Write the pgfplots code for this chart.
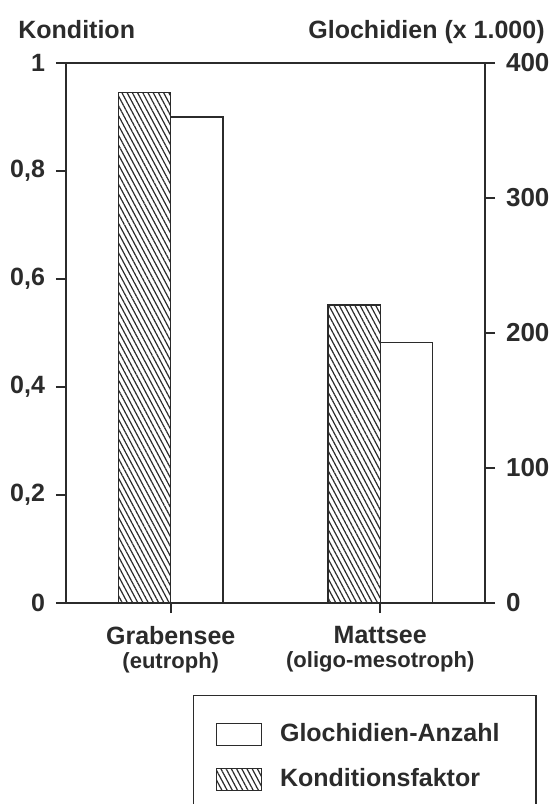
\documentclass[border=0pt]{standalone}
\usepackage{pgfplots}
\pgfplotsset{compat=1.18}
\usepackage{fontspec}
\setmainfont{Liberation Sans}
\usetikzlibrary{patterns.meta}
\definecolor{ink}{HTML}{2B2B2B}
\pgfplotsset{
  boxlegend/.style={legend image code/.code={\draw[##1] (0pt,-5.5pt) rectangle (22.5pt,5.5pt);}},
  hatch/.style={draw=ink, line width=0.7pt, pattern={Lines[angle=-62,distance=2.3pt,line width=0.6pt]}, pattern color=ink},
}
\begin{document}
\begin{tikzpicture}[font=\bfseries\fontsize{12.5}{15}\selectfont, text=ink]
\begin{axis}[
  name=ax, at={(0,0)}, anchor=south west,
  scale only axis, width=209.5pt, height=270pt,
  xmin=-0.5, xmax=1.5, ymin=0, ymax=1,
  xtick={0,1},
  xticklabels={{Grabensee\\[1pt]\fontsize{11}{11}\selectfont(eutroph)}, {Mattsee\\[1pt]\fontsize{11}{11}\selectfont(oligo-mesotroph)}},
  xticklabel style={align=center, font=\bfseries\fontsize{12.5}{11}\selectfont, yshift=-3pt},
  yticklabel style={xshift=-2pt},
  ytick={0,0.2,0.4,0.6,0.8,1},
  xtick pos=bottom, ytick pos=left,
  tick align=outside, major tick length=5pt,
  /pgf/number format/use comma,
  /pgf/number format/assume math mode=true,
  axis line style={ink, line width=0.9pt},
  tick style={ink, line width=0.9pt},
  extra description/.code={
    \node[anchor=base west, inner sep=0pt, xshift=-24pt, yshift=12pt] at (axis description cs:0,1) {Kondition};
    \node[anchor=base east, inner sep=0pt, xshift=30pt, yshift=12pt] at (axis description cs:1,1) {Glochidien (x 1.000)};
  },
]
\addplot[ybar, bar width=0.25, bar shift=-0.125, hatch] coordinates {(0,0.945) (1,0.552)};
\end{axis}
\begin{axis}[
  at={(0,0)}, anchor=south west,
  scale only axis, width=209.5pt, height=270pt,
  xmin=-0.5, xmax=1.5, ymin=0, ymax=400,
  axis y line*=right, axis x line=none,
  ytick={0,100,200,300,400},
  yticklabel style={xshift=2pt, font=\bfseries\fontsize{13}{15}\selectfont},
  tick align=outside, major tick length=5pt,
  /pgf/number format/assume math mode=true,
  axis line style={ink, line width=0.9pt},
  tick style={ink, line width=0.9pt},
  legend style={at={(0.303,-0.1704)}, anchor=north west, draw=ink, line width=0.7pt,
    inner xsep=11pt, inner ysep=12pt, row sep=8pt,
    /tikz/every odd column/.append style={column sep=7pt},
    cells={anchor=west}},
]
\addplot[ybar, bar width=0.25, bar shift=0.125, draw=ink, fill=white, line width=0.7pt, boxlegend] coordinates {(0,360) (1,193)};
\addlegendentry{\makebox[115pt][l]{Glochidien-Anzahl}}
\addlegendimage{hatch, boxlegend}
\addlegendentry{\makebox[115pt][l]{Konditionsfaktor}}
\end{axis}
\pgfresetboundingbox
\path (ax.south west) ++(-33pt,-100.5pt) rectangle ++(274.5pt,402pt);
\end{tikzpicture}
\end{document}
